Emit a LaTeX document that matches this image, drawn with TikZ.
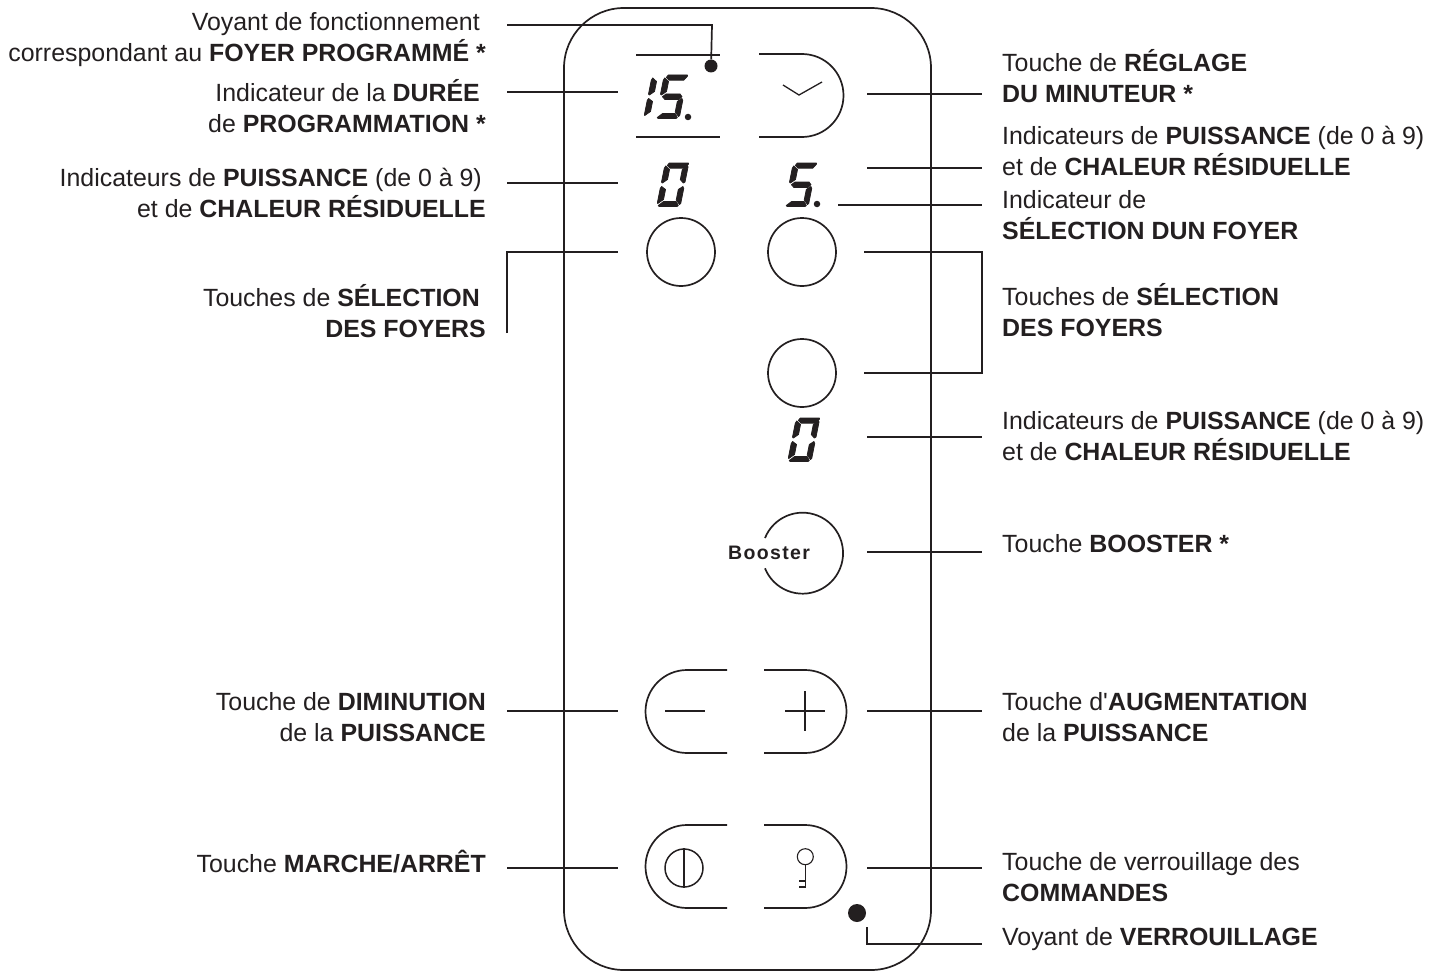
\documentclass[tikz,border=0pt]{standalone}
\usepackage{fontspec}
\setmainfont{Liberation Sans}
\newfontfamily\boostfont[LetterSpace=7]{Liberation Sans}
\newfontfamily\aposfont{Liberation Sans}
\definecolor{ink}{HTML}{231F20}
\tikzset{seg/.style={fill=ink,draw=ink,line width=.8pt,line join=round}}
\newcommand{\segTop}{\fill[seg] (3,-41.5) -- (4.5,-44) -- (23.5,-44) -- (24,-43) -- (21,-38.8) -- (6.5,-38.8) -- cycle;}
\newcommand{\segUL}{\fill[seg] (.5,-25) -- (.5,-38.5) -- (1.5,-41) -- (6,-37.5) -- (6,-27.5) -- (1.5,-24) -- cycle;}
\newcommand{\segUR}{\fill[seg] (24,-25) -- (24,-40) -- (23.5,-41) -- (18.8,-37.5) -- (18.8,-27.5) -- (22.5,-24) -- cycle;}
\newcommand{\segMid}{\fill[seg] (3,-22.3) -- (6,-25) -- (20,-25) -- (22.5,-22.3) -- (20,-19.5) -- (6,-19.5) -- cycle;}
\newcommand{\segLL}{\fill[seg] (.5,-4.5) -- (.5,-18.5) -- (1.5,-20.5) -- (6,-17.5) -- (6,-7.5) -- (1,-3.5) -- cycle;}
\newcommand{\segLR}{\fill[seg] (24,-3.5) -- (24,-18.5) -- (22.8,-20.5) -- (18.8,-17.5) -- (18.8,-7) -- (23,-2.5) -- cycle;}
\newcommand{\segBot}{\fill[seg] (2,-1.5) -- (6.5,-5.5) -- (19,-5.5) -- (22,-1.5) -- (21,-.5) -- (3,-.5) -- cycle;}
\newcommand{\digitzero}[1]{\begin{scope}[shift={#1},xslant=.2]\segTop\segUL\segUR\segLL\segLR\segBot\end{scope}}
\newcommand{\digitfive}[1]{\begin{scope}[shift={#1},xslant=.2]\segTop\segUL\segMid\segLR\segBot\end{scope}}
\newcommand{\digitone}[1]{\begin{scope}[shift={#1},xslant=.2]\segUL\segLL\end{scope}}
\tikzset{
  lab/.style={font=\fontsize{24.9}{31}\selectfont,text=ink,inner sep=0pt},
  labl/.style={lab,align=left,anchor=west},
  labr/.style={lab,align=right,anchor=east},
  ln/.style={draw=ink,line width=1.7pt},
  thin ln/.style={draw=ink,line width=1.2pt},
  knob/.style={circle,draw=ink,line width=1.7pt,minimum size=68pt,inner sep=0pt},
  led/.style={circle,fill=ink,inner sep=0pt}
}
\begin{document}
\begin{tikzpicture}[x=1pt,y=-1pt]
\useasboundingbox (0,0) rectangle (1437,979);
% panel
\draw[ln,rounded corners=60pt] (564,8) rectangle (931,970);
% display bars
\draw[ln] (636,55) -- (720,55);
\draw[ln] (636,137) -- (720,137);
% digits
\digitone{(643,119)}
\digitfive{(655,119)}
\node[led,minimum size=6.5pt] (dota) at (688,117) {};
\digitzero{(656,207)}
\digitfive{(784,207)}
\node[led,minimum size=6.5pt] (dotb) at (817,204) {};
\digitzero{(787,462)}
% timer button
\draw[ln] (759,54) -- (802,54) arc[start angle=90,end angle=-90,radius=41.5pt] -- (759,137);
\draw[ln,line width=1.3pt] (783,85) -- (799,95) -- (822,82);
% round keys
\node[knob] (selA) at (681,252) {};
\node[knob] (selB) at (802,252) {};
\node[knob] (selC) at (802,373) {};
% booster
\draw[ln] (765,538) arc[start angle=158,end angle=-158,radius=40.5pt];
\node[inner sep=0pt,text=ink,font=\boostfont\bfseries\fontsize{19.5}{20}\selectfont] (boost) at (769,553) {Booster};
% minus/plus
\draw[ln] (727,670) -- (687,670) arc[start angle=90,end angle=270,radius=41.5pt] -- (727,753);
\draw[ln] (764,670) -- (805,670) arc[start angle=90,end angle=-90,radius=41.5pt] -- (764,753);
\draw[ln] (665,711) -- (705,711);
\draw[ln] (785,711) -- (825,711);
\draw[ln] (805,691) -- (805,731);
% on/off and key
\draw[ln] (727,825) -- (687,825) arc[start angle=90,end angle=270,radius=41.5pt] -- (727,908);
\draw[ln] (764,825) -- (805,825) arc[start angle=90,end angle=-90,radius=41.5pt] -- (764,908);
\node[circle,draw=ink,line width=1.5pt,minimum size=38pt,inner sep=0pt] (power) at (684,868) {};
\draw[ln,line width=1.5pt] (power.north) -- (power.south);
\node[circle,draw=ink,line width=1.1pt,minimum size=16pt,inner sep=0pt] (keyring) at (805.3,856.7) {};
\coordinate (keyend) at (805.3,887);
\draw[thin ln] (keyring.south) -- (keyend) -- (799,887);
\draw[thin ln] (799,881) -- (805.3,881);
% LEDs
\node[led,minimum size=13pt] (ledA) at (711,66) {};
\node[led,minimum size=18pt] (ledB) at (857,913) {};
% leader end points
\foreach \n/\x/\y in {la/507/25,lb/712/25,lc/507/92,ld/618/92,le/507/183,lf/618/183,lg/507/333,lh/507/252,li/618/252,lj/507/711,lk/618/711,ll/507/868,lm/618/868,
 ra/867/94,rb/982/94,rc/867/168,rd/982/168,re/838/205,rf/982/205,rg/864/252,rh/982/252,ri/982/373,rj/864/373,rk/867/437,rl/982/437,rm/867/552,rn/982/552,ro/867/711,rp/982/711,rq/867/868,rr/982/868,rs/867/927,rt/867/944,ru/982/944}
 {\coordinate (\n) at (\x,\y);}
% leaders
\draw[ln] (la) -- (lb) -- (ledA);
\draw[ln] (lc) -- (ld);
\draw[ln] (le) -- (lf);
\draw[ln] (lg) -- (lh) -- (li);
\draw[ln] (lj) -- (lk);
\draw[ln] (ll) -- (lm);
\draw[ln] (ra) -- (rb);
\draw[ln] (rc) -- (rd);
\draw[ln] (re) -- (rf);
\draw[ln] (rg) -- (rh) -- (ri) -- (rj);
\draw[ln] (rk) -- (rl);
\draw[ln] (rm) -- (rn);
\draw[ln] (ro) -- (rp);
\draw[ln] (rq) -- (rr);
\draw[ln] (rs) -- (rt) -- (ru);
% left labels
\node[labr] (t1) at (486,39.5) {Voyant de fonctionnement\hspace*{6pt}\\correspondant au \textbf{FOYER PROGRAMMÉ *}};
\node[labr] (t2) at (486,106.5) {Indicateur de la \textbf{DURÉE}\hspace*{6pt}\\de \textbf{PROGRAMMATION *}};
\node[labr] (t3) at (486,193) {Indicateurs de \textbf{PUISSANCE} (de 0 à 9)\hspace*{4pt}\\et de \textbf{CHALEUR RÉSIDUELLE}};
\node[labr] (t4) at (486,311) {Touches de \textbf{SÉLECTION}\hspace*{6pt}\\\textbf{DES FOYERS}};
\node[labr] (t5) at (486,717) {Touche de \textbf{DIMINUTION}\\de la \textbf{PUISSANCE}};
\node[labr] (t6) at (486,862) {Touche \textbf{MARCHE/ARRÊT}};
% right labels
\node[labl] (r1) at (1002,76.5) {Touche de \textbf{RÉGLAGE}\\\textbf{DU MINUTEUR *}};
\node[labl] (r2) at (1002,151) {Indicateurs de \textbf{PUISSANCE} (de 0 à 9)\\et de \textbf{CHALEUR RÉSIDUELLE}};
\node[labl] (r3) at (1002,215.5) {Indicateur de\\\textbf{SÉLECTION DUN FOYER}};
\node[labl] (r4) at (1002,310.5) {Touches de \textbf{SÉLECTION}\\\textbf{DES FOYERS}};
\node[labl] (r5) at (1002,436) {Indicateurs de \textbf{PUISSANCE} (de 0 à 9)\\et de \textbf{CHALEUR RÉSIDUELLE}};
\node[labl] (r6) at (1002,544) {Touche \textbf{BOOSTER *}};
\node[labl] (r7) at (1002,717) {Touche d{\aposfont '}\textbf{AUGMENTATION}\\de la \textbf{PUISSANCE}};
\node[labl] (r8) at (1002,877.5) {Touche de verrouillage des\\\textbf{COMMANDES}};
\node[labl] (r9) at (1002,939.5) {Voyant de \textbf{VERROUILLAGE}};
\end{tikzpicture}
\end{document}
